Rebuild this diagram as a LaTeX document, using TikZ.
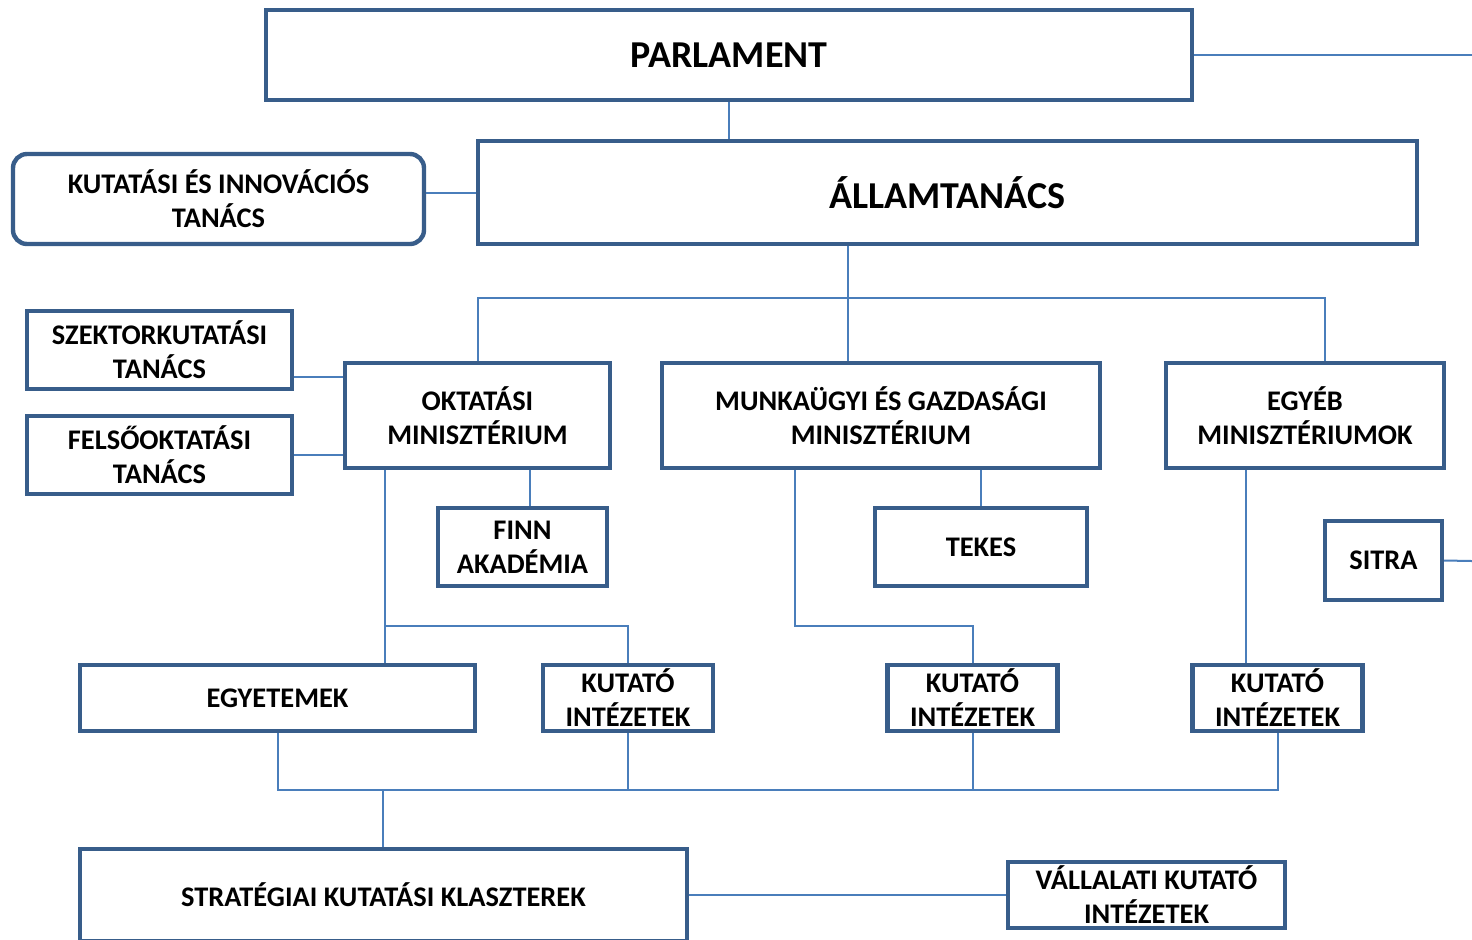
\documentclass[tikz,border=0pt]{standalone}
\usepackage{fontspec}
\setmainfont{Carlito}
\definecolor{boxblue}{HTML}{385D8A}
\definecolor{lineblue}{HTML}{4A7EBB}
\begin{document}
\begin{tikzpicture}[x=0.5pt,y=-0.5pt,
    box/.style={draw=boxblue,line width=2.2pt,fill=white,inner sep=0pt,align=center,font=\bfseries\fontsize{14.2}{17}\selectfont},
    bigbox/.style={box,font=\bfseries\fontsize{19}{22}\selectfont},
    conn/.style={draw=lineblue,line width=1pt}]
      \useasboundingbox (0,0) rectangle (1472,939);%

      \node[bigbox,minimum width=463pt,minimum height=45pt] (PARL) at (729,55) {PARLAMENT};%
      \node[bigbox,minimum width=469.5pt,minimum height=51.5pt] (ALLAM) at (947.5,192.5) {ÁLLAMTANÁCS};%
      \node[box,rounded corners=7pt,minimum width=205.5pt,minimum height=45pt] (KIT) at (218.5,199) {KUTATÁSI ÉS INNOVÁCIÓS\\TANÁCS};%

      \node[box,minimum width=132.5pt,minimum height=39pt] (SZEK) at (159.5,350) {SZEKTORKUTATÁSI\\TANÁCS};%
      \node[box,minimum width=132.5pt,minimum height=39pt] (FELS) at (159.5,455) {FELSŐOKTATÁSI\\TANÁCS};%

      \node[box,minimum width=132.5pt,minimum height=52.5pt] (OKT) at (477.5,415.5) {OKTATÁSI\\MINISZTÉRIUM};%
      \node[box,minimum width=219pt,minimum height=52.5pt] (MUNK) at (881,415.5) {MUNKAÜGYI ÉS GAZDASÁGI\\MINISZTÉRIUM};%
      \node[box,minimum width=139pt,minimum height=52.5pt] (EGYEB) at (1305,415.5) {EGYÉB\\MINISZTÉRIUMOK};%

      \node[box,minimum width=84.5pt,minimum height=39pt] (FINN) at (522.5,547) {FINN\\AKADÉMIA};%
      \node[box,minimum width=106pt,minimum height=39pt] (TEKES) at (981,547) {TEKES};%
      \node[box,minimum width=58.5pt,minimum height=39.5pt] (SITRA) at (1383.5,560.5) {SITRA};%

      \node[box,minimum width=197.5pt,minimum height=33pt] (EGY) at (277.5,698) {EGYETEMEK};%
      \node[box,minimum width=85pt,minimum height=33pt] (KI1) at (628,698) {KUTATÓ\\INTÉZETEK};%
      \node[box,minimum width=85pt,minimum height=33pt] (KI2) at (972.5,698) {KUTATÓ\\INTÉZETEK};%
      \node[box,minimum width=85pt,minimum height=33pt] (KI3) at (1277.5,698) {KUTATÓ\\INTÉZETEK};%

      \node[box,minimum width=303.5pt,minimum height=46pt] (KLASZ) at (383.5,895) {STRATÉGIAI KUTATÁSI KLASZTEREK};%
      \node[box,minimum width=138.5pt,minimum height=33pt] (VALL) at (1146.5,895) {VÁLLALATI KUTATÓ\\INTÉZETEK};%

      \coordinate (E1) at (1472,55);%
      \coordinate (E2) at (1472,561);%
      \coordinate (B1) at (848,298);%
      \coordinate (B2) at (1325,298);%
      \coordinate (J1) at (385,626);%
      \coordinate (J2) at (795,626);%
      \coordinate (J3) at (1246,626);%
      \coordinate (J4) at (383,790);%

      \draw[conn] (PARL.south) -- (PARL.south |- ALLAM.north);%
      \draw[conn] (PARL.east) -- (E1);%
      \draw[conn] (ALLAM.west) -- (ALLAM.west -| KIT.east);%

      \draw[conn] (B1 |- ALLAM.south) -- (B1) -- (B1 |- MUNK.north);%
      \draw[conn] (OKT.north) |- (B2) -- (B2 |- EGYEB.north);%

      \draw[conn] ([yshift=-13.5pt]SZEK.east) -- ([yshift=-13.5pt]SZEK.east -| OKT.west);%
      \draw[conn] (FELS.east) -- (FELS.east -| OKT.west);%
      \draw[conn] ([xshift=3.75pt]FINN.north) -- ([xshift=3.75pt]FINN.north |- OKT.south);%

      \draw[conn] (J1 |- OKT.south) -- (J1 |- EGY.north);%
      \draw[conn] (J1) -| (KI1.north);%
      \draw[conn] (J2 |- MUNK.south) -- (J2) -| (KI2.north);%
      \draw[conn] (TEKES.north) -- (TEKES.north |- MUNK.south);%
      \draw[conn] (J3 |- EGYEB.south) -- (J3 |- KI3.north);%
      \draw[conn] (SITRA.east) -- (E2);%

      \draw[conn] (EGY.south) |- (J4) -| (KI3.south);%
      \draw[conn] (KI1.south) -- (KI1.south |- J4);%
      \draw[conn] (KI2.south) -- (KI2.south |- J4);%
      \draw[conn] (J4) -- (J4 |- KLASZ.north);%
      \draw[conn] (KLASZ.east) -- (VALL.west);%
\end{tikzpicture}
\end{document}
